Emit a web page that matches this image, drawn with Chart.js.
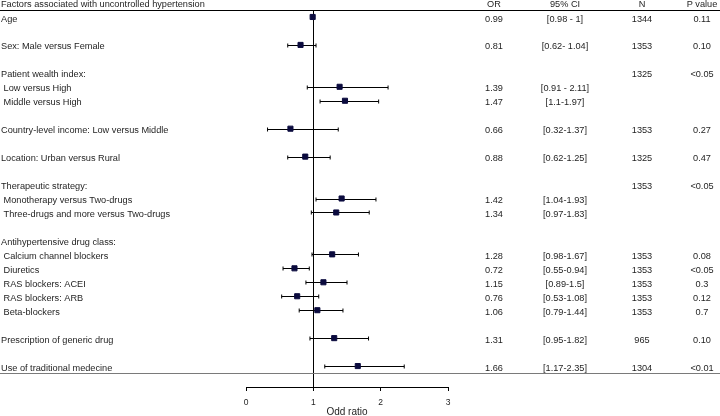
<!DOCTYPE html>
<html>
<head>
<meta charset="utf-8">
<title>Factors associated with uncontrolled hypertension</title>
<script src="https://cdn.jsdelivr.net/npm/chart.js@4.4.1/dist/chart.umd.min.js"></script>
<style>
  html, body { margin: 0; padding: 0; background: #ffffff; }
  #wrap { width: 720px; height: 416px; position: relative; }
</style>
</head>
<body>
<div id="wrap"><canvas id="forest"></canvas></div>
<script>
// rows of the table, '' = blank spacer row; sub items start with a space
const rowLabels = [
    'Age', '',
    'Sex: Male versus Female', '',
    'Patient wealth index:', ' Low versus High', ' Middle versus High', '',
    'Country-level income: Low versus Middle', '',
    'Location: Urban versus Rural', '',
    'Therapeutic strategy:', ' Monotherapy versus Two-drugs', ' Three-drugs and more versus Two-drugs', '',
    'Antihypertensive drug class:', ' Calcium channel blockers', ' Diuretics', ' RAS blockers: ACEI',
    ' RAS blockers: ARB', ' Beta-blockers', '',
    'Prescription of generic drug', '',
    'Use of traditional medecine', ''
];
const oddRatio = [0.99, null, 0.81, null, null, 1.39, 1.47, null, 0.66, null, 0.88, null,
    null, 1.42, 1.34, null, null, 1.28, 0.72, 1.15, 0.76, 1.06, null, 1.31, null, 1.66, null];
const ciLow = [0.98, null, 0.62, null, null, 0.91, 1.1, null, 0.32, null, 0.62, null,
    null, 1.04, 0.97, null, null, 0.98, 0.55, 0.89, 0.53, 0.79, null, 0.95, null, 1.17, null];
const ciHigh = [1, null, 1.04, null, null, 2.11, 1.97, null, 1.37, null, 1.25, null,
    null, 1.93, 1.83, null, null, 1.67, 0.94, 1.5, 1.08, 1.44, null, 1.82, null, 2.35, null];
const orText = ['0.99', '', '0.81', '', '', '1.39', '1.47', '', '0.66', '', '0.88', '',
    '', '1.42', '1.34', '', '', '1.28', '0.72', '1.15', '0.76', '1.06', '', '1.31', '', '1.66', ''];
const ciText = ['[0.98 - 1]', '', '[0.62- 1.04]', '', '', '[0.91 - 2.11]', '[1.1-1.97]', '', '[0.32-1.37]', '',
    '[0.62-1.25]', '', '', '[1.04-1.93]', '[0.97-1.83]', '', '', '[0.98-1.67]', '[0.55-0.94]', '[0.89-1.5]',
    '[0.53-1.08]', '[0.79-1.44]', '', '[0.95-1.82]', '', '[1.17-2.35]', ''];
const nText = ['1344', '', '1353', '', '1325', '', '', '', '1353', '', '1325', '',
    '1353', '', '', '', '', '1353', '1353', '1353', '1353', '1353', '', '965', '', '1304', ''];
const pText = ['0.11', '', '0.10', '', '<0.05', '', '', '', '0.27', '', '0.47', '',
    '<0.05', '', '', '', '', '0.08', '<0.05', '0.3', '0.12', '0.7', '', '0.10', '', '<0.01', ''];
const xTicks = [0, 1, 2, 3];
const title = 'Factors associated with uncontrolled hypertension';
const columnHeads = ['OR', '95% CI', 'N', 'P value'];

const FONT = '"Liberation Sans", Arial, sans-serif';
const TEXT = '#1e1e1e';
const MARK = '#0b0b3e';
const colX = [494, 565, 642, 702];   // centres of the right-hand columns

const points = [];
rowLabels.forEach((lab, i) => {
    if (oddRatio[i] != null) points.push({ x: oddRatio[i], y: lab });
});

const forestPlugin = {
    id: 'forestPlugin',
    beforeDatasetsDraw(chart) {
        const { ctx, chartArea, scales: { x, y } } = chart;
        ctx.save();
        ctx.strokeStyle = '#000';
        ctx.lineWidth = 1;

        // line of no effect
        const x1 = Math.round(x.getPixelForValue(1)) + 0.5;
        ctx.beginPath();
        ctx.moveTo(x1, chartArea.top);
        ctx.lineTo(x1, chartArea.bottom);
        ctx.stroke();

        // confidence intervals
        rowLabels.forEach((_, i) => {
            if (ciLow[i] == null) return;
            const py = Math.round(y.getPixelForValue(i)) + 0.5;
            const xa = x.getPixelForValue(ciLow[i]);
            const xb = x.getPixelForValue(ciHigh[i]);
            ctx.beginPath();
            ctx.moveTo(xa, py); ctx.lineTo(xb, py);
            ctx.moveTo(xa, py - 2); ctx.lineTo(xa, py + 2);
            ctx.moveTo(xb, py - 2); ctx.lineTo(xb, py + 2);
            ctx.stroke();
        });
        ctx.restore();
    },
    afterDraw(chart) {
        const { ctx, chartArea, scales: { y } } = chart;
        const w = chart.width;
        ctx.save();

        // rules
        ctx.strokeStyle = '#000';
        ctx.lineWidth = 1;
        ctx.beginPath();
        ctx.moveTo(0, chartArea.top + 0.5);
        ctx.lineTo(w, chartArea.top + 0.5);
        ctx.stroke();
        ctx.strokeStyle = '#7a7a7a';
        const yb = Math.round(y.getPixelForValue(rowLabels.length - 1.5)) + 0.5;
        ctx.beginPath();
        ctx.moveTo(0, yb);
        ctx.lineTo(w, yb);
        ctx.stroke();

        // header
        ctx.fillStyle = TEXT;
        ctx.font = '9.2px ' + FONT;
        ctx.textBaseline = 'middle';
        ctx.textAlign = 'left';
        ctx.fillText(title, 1, 4.5);
        ctx.textAlign = 'center';
        columnHeads.forEach((h, k) => ctx.fillText(h, colX[k], 4.5));

        // table rows
        rowLabels.forEach((lab, i) => {
            if (!lab) return;
            const ty = y.getPixelForValue(i) + 2;
            ctx.textAlign = 'left';
            ctx.fillText(lab, 1, ty);
            ctx.textAlign = 'center';
            [orText[i], ciText[i], nText[i], pText[i]].forEach((t, k) => {
                if (t) ctx.fillText(t, colX[k], ty);
            });
        });
        ctx.restore();
    }
};

new Chart(document.getElementById('forest'), {
    type: 'scatter',
    data: {
        datasets: [{
            label: 'Odd ratio',
            data: points,
            pointStyle: 'rect',
            pointRadius: 3.6,
            pointHoverRadius: 3.6,
            backgroundColor: MARK,
            borderColor: MARK,
            borderWidth: 1
        }]
    },
    options: {
        responsive: true,
        maintainAspectRatio: false,
        animation: false,
        layout: { padding: { left: 246, right: 272, top: 10, bottom: 0 } },
        plugins: {
            legend: { display: false },
            tooltip: { enabled: false }
        },
        scales: {
            x: {
                type: 'linear',
                min: xTicks[0],
                max: xTicks[xTicks.length - 1],
                afterBuildTicks: s => { s.ticks = xTicks.map(v => ({ value: v })); },
                afterFit: s => { s.height = 29; },
                grid: { drawOnChartArea: false, drawTicks: true, tickLength: 4, color: '#000' },
                border: { display: true, color: '#000', width: 1 },
                ticks: { color: TEXT, padding: 7, font: { family: FONT, size: 8.5 } },
                title: {
                    display: true,
                    text: 'Odd ratio',
                    color: TEXT,
                    padding: { top: 0, bottom: -1 },
                    font: { family: FONT, size: 10, lineHeight: 1 }
                }
            },
            y: {
                type: 'category',
                labels: rowLabels,
                offset: true,
                display: false
            }
        }
    },
    plugins: [forestPlugin]
});
</script>
</body>
</html>
